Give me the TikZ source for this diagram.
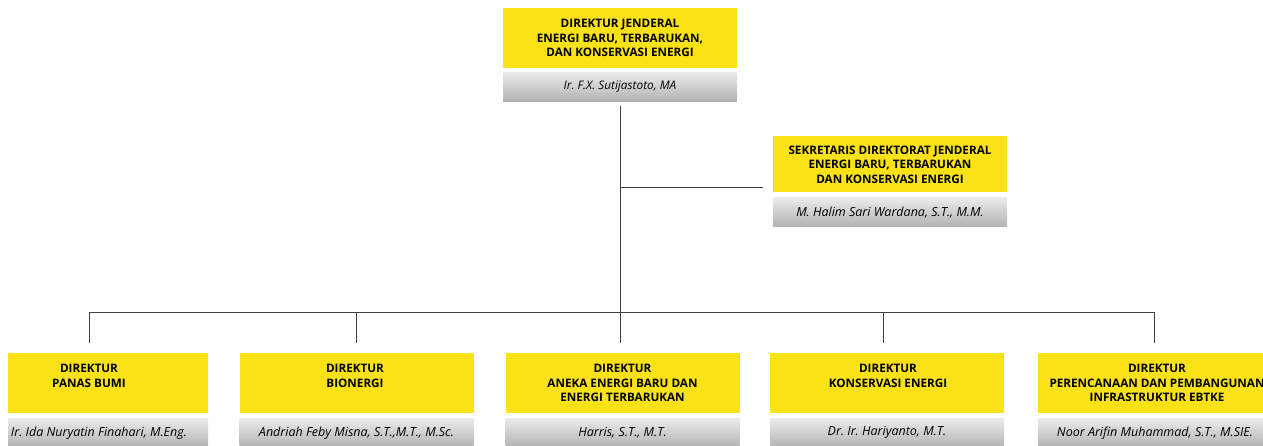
\documentclass[tikz,border=0pt]{standalone}
\usepackage{fontspec}
\setmainfont{Open Sans}
\usetikzlibrary{positioning}
\definecolor{kuning}{HTML}{FAE217}
\frenchspacing

\begin{document}
\begin{tikzpicture}[x=1pt,y=-1pt]
	\tikzset{
	jabatan/.style={fill=kuning, minimum width=234pt, minimum height=60pt, inner sep=0pt},
	pejabat/.style={top color=black!8, bottom color=black!30, minimum width=234pt, minimum height=29pt, inner sep=0pt, font=\fontsize{12.5}{14}\selectfont\itshape},
	judul/.style={align=center, inner sep=0pt, font=\fontsize{11.7}{14.5}\selectfont\bfseries},
	garis/.style={draw=black!75, line width=0.8pt}}

	\useasboundingbox (0,0) rectangle (1263,446);

	%dirjen
	\node[jabatan] (dirjen) at (620,38) {};
	\node[judul] (dirjent) at (dirjen) {DIREKTUR JENDERAL\\ENERGI BARU, TERBARUKAN,\\DAN KONSERVASI ENERGI};
	\node[pejabat, below=4pt of dirjen, font=\fontsize{11.8}{14}\selectfont\itshape] (dirjenn) {Ir. F.X. Sutijastoto, MA};

	%sesditjen
	\node[jabatan, minimum height=56pt] (ses) at (890,164.5) {};
	\node[judul] (sest) at (ses) {SEKRETARIS DIREKTORAT JENDERAL\\ENERGI BARU, TERBARUKAN\\DAN KONSERVASI ENERGI};
	\node[pejabat, below=5pt of ses] (sesn) {M. Halim Sari Wardana, S.T., M.M.};

	%direktur
	\node[jabatan, minimum width=200pt] (dpb) at (108,383) {};
	\node[judul] (dpbt) at (89,376) {DIREKTUR\\PANAS BUMI};
	\node[pejabat, minimum width=200pt, below=5pt of dpb] (dpbn) {\hspace*{-18pt}Ir. Ida Nuryatin Finahari, M.Eng.};

	\node[jabatan] (dbio) at (356.5,383) {};
	\node[judul] (dbiot) at (355,376) {DIREKTUR\\BIONERGI};
	\node[pejabat, below=5pt of dbio] (dbion) {Andriah Feby Misna, S.T.,M.T., M.Sc.};

	\node[jabatan] (dae) at (622.5,383) {};
	\node[judul] (daet) at (dae) {DIREKTUR\\ANEKA ENERGI BARU DAN\\ENERGI TERBARUKAN};
	\node[pejabat, below=5pt of dae] (daen) {Harris, S.T., M.T.};

	\node[jabatan] (dke) at (887,383) {};
	\node[judul] (dket) at (888,376) {DIREKTUR\\KONSERVASI ENERGI};
	\node[pejabat, below=5pt of dke] (dken) {Dr. Ir. Hariyanto, M.T.};

	\node[jabatan] (dpp) at (1155,383) {};
	\node[judul] (dppt) at (1157,383) {DIREKTUR\\PERENCANAAN DAN PEMBANGUNAN\\INFRASTRUKTUR EBTKE};
	\node[pejabat, below=5pt of dpp] (dppn) {Noor Arifin Muhammad, S.T., M.SIE.};

	%garis
	\coordinate (sambung) at (620,187);
	\coordinate (bus) at (620,312);
	\coordinate (busl) at (89,312);
	\coordinate (busr) at (1154,312);

	\draw[garis] ([yshift=-4pt]dirjenn.south) -- (bus);
	\draw[garis] (sambung) -- ([xshift=-10pt]ses.west |- sambung);
	\draw[garis] (busl) -- (busr);

	\draw[garis] (busl) -- ([yshift=10pt]busl |- dpb.north);
	\draw[garis] (dbio.north |- bus) -- ([yshift=10pt]dbio.north);
	\draw[garis] (bus) -- ([yshift=10pt]bus |- dae.north);
	\draw[garis] ([xshift=-4pt]dke.north |- bus) -- ([xshift=-4pt,yshift=10pt]dke.north);
	\draw[garis] (busr) -- ([yshift=10pt]busr |- dpp.north);
\end{tikzpicture}
\end{document}
